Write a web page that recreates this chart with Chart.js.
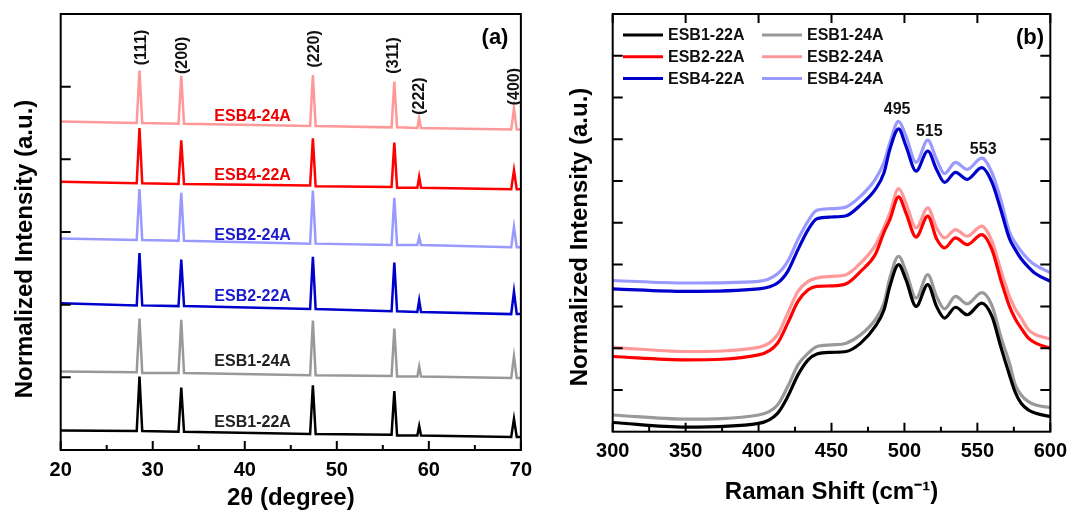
<!DOCTYPE html>
<html>
<head>
<meta charset="utf-8">
<script src="https://cdn.jsdelivr.net/npm/chart.js@4.4.1/dist/chart.umd.min.js"></script>
<style>
  body { margin: 0; background: #fff; }
  .panel { position: absolute; top: 0; height: 513px; }
  #wrapA { left: 0; width: 540px; }
  #wrapB { left: 540px; width: 535px; }
</style>
</head>
<body>
<div class="panel" id="wrapA"><canvas id="xrd"></canvas></div>
<div class="panel" id="wrapB"><canvas id="raman"></canvas></div>
<script>
const FONT = 'Arial, "Liberation Sans", sans-serif';

// (a) XRD, offset patterns
const twoTheta = [20, 28.26, 28.56, 28.86, 32.8, 33.1, 33.4, 47.1, 47.4, 47.7, 55.95, 56.25, 56.55, 58.75, 58.95, 59.15, 68.95, 69.25, 69.55, 70];
const xrdEsb4_24A = [4.52, 4.50, 5.22, 4.50, 4.49, 5.15, 4.49, 4.46, 5.16, 4.46, 4.44, 5.07, 4.44, 4.43, 4.57, 4.43, 4.41, 4.70, 4.41, 4.41];
const xrdEsb4_22A = [3.69, 3.67, 4.43, 3.67, 3.66, 4.26, 3.66, 3.64, 4.29, 3.63, 3.62, 4.23, 3.61, 3.61, 3.76, 3.61, 3.59, 3.85, 3.59, 3.59];
const xrdEsb2_24A = [2.91, 2.89, 3.59, 2.89, 2.88, 3.54, 2.88, 2.84, 3.57, 2.84, 2.82, 3.47, 2.82, 2.82, 2.93, 2.82, 2.79, 3.07, 2.79, 2.79];
const xrdEsb2_22A = [2.02, 1.99, 2.71, 1.99, 1.98, 2.62, 1.98, 1.94, 2.66, 1.94, 1.91, 2.58, 1.91, 1.90, 2.06, 1.90, 1.87, 2.18, 1.87, 1.87];
const xrdEsb1_24A = [1.08, 1.07, 1.81, 1.06, 1.06, 1.79, 1.06, 1.03, 1.78, 1.03, 1.02, 1.67, 1.01, 1.01, 1.15, 1.01, 0.99, 1.29, 0.99, 0.99];
const xrdEsb1_22A = [0.27, 0.26, 1.01, 0.26, 0.25, 0.86, 0.25, 0.22, 0.89, 0.22, 0.21, 0.81, 0.20, 0.20, 0.33, 0.20, 0.18, 0.43, 0.18, 0.18];
const xrdNames = ['ESB4-24A', 'ESB4-22A', 'ESB2-24A', 'ESB2-22A', 'ESB1-24A', 'ESB1-22A'];
const xrdLabelY = [4.59, 3.78, 2.95, 2.11, 1.21, 0.38];
const xrdLabelX = 40.85;
const hklLabels = ['(111)', '(200)', '(220)', '(311)', '(222)', '(400)'];
const hklX = [28.82, 33.22, 47.62, 56.19, 58.98, 69.33];
const hklY = [5.54, 5.43, 5.52, 5.43, 4.87, 5.0];
const xrdTicks = [20, 30, 40, 50, 60, 70];
const xrdMinor = [25, 35, 45, 55, 65];
const xrdYTicks = [1, 2, 3, 4, 5];

// (b) Raman, offset spectra
const ramanShift = [300, 350, 400, 413, 420, 427, 434, 440, 450, 460, 470, 480, 486, 490, 496, 501, 508, 516, 522, 527.5, 535, 543, 553, 560, 566, 572, 576, 580, 585, 590, 600];
const ramEsb1_22A = [0.22, 0.11, 0.20, 0.44, 0.84, 1.36, 1.72, 1.86, 1.90, 1.92, 2.12, 2.52, 2.92, 3.48, 4.00, 3.64, 3.00, 3.52, 3.00, 2.72, 2.98, 2.80, 3.08, 2.76, 2.04, 1.36, 0.94, 0.68, 0.52, 0.44, 0.36];
const ramEsb1_24A = [0.40, 0.30, 0.40, 0.64, 1.08, 1.60, 1.88, 2.04, 2.08, 2.12, 2.32, 2.68, 3.08, 3.68, 4.20, 3.84, 3.20, 3.76, 3.24, 2.94, 3.24, 3.06, 3.33, 3.02, 2.28, 1.64, 1.12, 0.88, 0.72, 0.64, 0.58];
const ramEsb2_22A = [1.80, 1.72, 1.84, 2.12, 2.60, 3.12, 3.40, 3.48, 3.49, 3.54, 3.84, 4.24, 4.78, 5.08, 5.62, 5.24, 4.66, 5.16, 4.62, 4.40, 4.64, 4.48, 4.72, 4.36, 3.64, 3.00, 2.70, 2.48, 2.24, 2.12, 2.00];
const ramEsb2_24A = [2.02, 1.92, 2.02, 2.32, 2.84, 3.36, 3.60, 3.68, 3.72, 3.76, 4.04, 4.46, 4.90, 5.24, 5.82, 5.48, 4.88, 5.36, 4.88, 4.64, 4.84, 4.68, 4.92, 4.56, 3.88, 3.24, 2.94, 2.72, 2.44, 2.32, 2.22];
const ramEsb4_22A = [3.42, 3.36, 3.42, 3.56, 3.84, 4.36, 4.84, 5.10, 5.14, 5.17, 5.43, 5.80, 6.20, 6.76, 7.25, 6.84, 6.24, 6.72, 6.28, 5.97, 6.21, 6.04, 6.32, 5.97, 5.32, 4.62, 4.36, 4.14, 3.94, 3.78, 3.60];
const ramEsb4_24A = [3.62, 3.56, 3.60, 3.78, 4.08, 4.60, 5.05, 5.30, 5.34, 5.38, 5.64, 6.04, 6.45, 6.92, 7.43, 7.08, 6.45, 6.98, 6.52, 6.18, 6.45, 6.28, 6.55, 6.20, 5.56, 4.78, 4.52, 4.32, 4.12, 3.98, 3.81];
const ramanNames = ['ESB1-22A', 'ESB1-24A', 'ESB2-22A', 'ESB2-24A', 'ESB4-22A', 'ESB4-24A'];
const bandLabels = ['495', '515', '553'];
const bandX = [495, 517, 554];
const bandY = [7.71, 7.19, 6.76];
const ramanTicks = [300, 350, 400, 450, 500, 550, 600];
const ramanMinor = [325, 375, 425, 475, 525, 575];
const ramanYTicks = [1, 2, 3, 4, 5, 6, 7, 8, 9];

// colours
const BLACK = '#000000', GREY = '#999999', RED = '#ff0000', PINK = '#ff9999', BLUE = '#0000cc', LBLUE = '#9999ff';
const xrdColors = [PINK, RED, LBLUE, BLUE, GREY, BLACK];
const xrdTextColors = ['#ee0000', '#ee0000', '#1a1acc', '#1a1acc', '#222222', '#222222'];
const ramanColors = [BLACK, GREY, RED, PINK, BLUE, LBLUE];

const pts = (xs, ys) => xs.map((x, i) => ({ x, y: ys[i] }));
const f = (size) => `bold ${size}px ${FONT}`;

// frame, inward ticks, annotations and the inner legend
const decor = {
  id: 'decor',
  afterDatasetsDraw(chart, args, o) {
    const { ctx, chartArea: a, scales: { x, y } } = chart;
    ctx.save();
    ctx.strokeStyle = '#000';
    ctx.lineWidth = 2;
    ctx.strokeRect(a.left, a.top, a.right - a.left, a.bottom - a.top);
    ctx.beginPath();
    o.xMajor.forEach(v => {
      const p = x.getPixelForValue(v);
      ctx.moveTo(p, a.bottom); ctx.lineTo(p, a.bottom - 9);
      if (o.mirror) { ctx.moveTo(p, a.top); ctx.lineTo(p, a.top + 9); }
    });
    o.xMinor.forEach(v => {
      const p = x.getPixelForValue(v);
      ctx.moveTo(p, a.bottom); ctx.lineTo(p, a.bottom - 5);
    });
    o.yTicks.forEach(v => {
      const p = y.getPixelForValue(v);
      ctx.moveTo(a.left, p); ctx.lineTo(a.left + 10, p);
      if (o.mirror) { ctx.moveTo(a.right, p); ctx.lineTo(a.right - 10, p); }
    });
    ctx.stroke();

    ctx.textAlign = 'center';
    ctx.textBaseline = 'middle';
    o.texts.forEach(t => {
      const px = t.px !== undefined ? t.px : x.getPixelForValue(t.x);
      const py = t.py !== undefined ? t.py : y.getPixelForValue(t.y);
      ctx.save();
      ctx.translate(px, py);
      ctx.rotate(t.rot || 0);
      ctx.font = t.font;
      ctx.fillStyle = t.color || '#000';
      ctx.fillText(t.text, 0, 0);
      ctx.restore();
    });

    if (o.legend) {
      const L = o.legend;
      ctx.font = f(16);
      ctx.textAlign = 'left';
      chart.data.datasets.forEach((ds, i) => {
        const col = i % 2, row = Math.floor(i / 2);
        const lx = L.x + col * L.colW, ly = L.y + row * L.rowH;
        ctx.strokeStyle = ds.borderColor;
        ctx.lineWidth = 3;
        ctx.beginPath();
        ctx.moveTo(lx, ly); ctx.lineTo(lx + 40, ly);
        ctx.stroke();
        ctx.fillStyle = '#111';
        ctx.fillText(ds.label, lx + 45, ly + 1);
      });
    }
    ctx.restore();
  }
};

const xAxis = (min, max, step, title, titlePad, height) => ({
  type: 'linear', min, max,
  afterFit: s => { s.height = height; },
  grid: { display: false, drawTicks: false },
  border: { display: false },
  ticks: { stepSize: step, padding: 8, color: '#000', font: { family: FONT, size: 20, weight: 'bold' } },
  title: { display: true, text: title, color: '#000', padding: { top: 0, bottom: titlePad },
           font: { family: FONT, size: 24, weight: 'bold' } }
});

const xrdTexts = [
  { px: 25, py: 249, rot: -Math.PI / 2, text: 'Normalized Intensity (a.u.)', font: f(24) },
  { px: 495, py: 38, text: '(a)', font: f(22) }
];
hklLabels.forEach((t, i) => xrdTexts.push({ x: hklX[i], y: hklY[i], rot: -Math.PI / 2, text: t, font: f(16), color: '#111' }));
xrdNames.forEach((t, i) => xrdTexts.push({ x: xrdLabelX, y: xrdLabelY[i], text: t, font: f(16), color: xrdTextColors[i] }));

new Chart(document.getElementById('xrd'), {
  type: 'line',
  data: {
    datasets: [xrdEsb4_24A, xrdEsb4_22A, xrdEsb2_24A, xrdEsb2_22A, xrdEsb1_24A, xrdEsb1_22A].map((ys, i) => ({
      label: xrdNames[i], data: pts(twoTheta, ys), borderColor: xrdColors[i],
      borderWidth: 2.5, pointRadius: 0, tension: 0
    }))
  },
  options: {
    responsive: true, maintainAspectRatio: false, animation: false,
    layout: { padding: { left: 60.7, right: 17.7, top: 14, bottom: 0 } },
    plugins: {
      legend: { display: false }, tooltip: { enabled: false },
      decor: { xMajor: xrdTicks, xMinor: xrdMinor, yTicks: xrdYTicks, mirror: false, texts: xrdTexts }
    },
    scales: {
      x: xAxis(20, 70, 10, '2θ (degree)', 0, 63),
      y: { display: false, min: 0, max: 6 }
    }
  },
  plugins: [decor]
});

const ramanTexts = [
  { px: 40, py: 237, rot: -Math.PI / 2, text: 'Normalized Intensity (a.u.)', font: f(24) },
  { px: 490, py: 38, text: '(b)', font: f(22) }
];
bandLabels.forEach((t, i) => ramanTexts.push({ x: bandX[i], y: bandY[i], text: t, font: f(16), color: '#111' }));

new Chart(document.getElementById('raman'), {
  type: 'line',
  data: {
    datasets: [ramEsb1_22A, ramEsb1_24A, ramEsb2_22A, ramEsb2_24A, ramEsb4_22A, ramEsb4_24A].map((ys, i) => ({
      label: ramanNames[i], data: pts(ramanShift, ys), borderColor: ramanColors[i],
      borderWidth: 3.2, pointRadius: 0, cubicInterpolationMode: 'monotone'
    }))
  },
  options: {
    responsive: true, maintainAspectRatio: false, animation: false,
    layout: { padding: { left: 72.7, right: 20, top: 14, bottom: 0 } },
    plugins: {
      legend: { display: false }, tooltip: { enabled: false },
      decor: { xMajor: ramanTicks, xMinor: ramanMinor, yTicks: ramanYTicks, mirror: true, texts: ramanTexts,
               legend: { x: 83, y: 35, colW: 139, rowH: 21.7 } }
    },
    scales: {
      x: xAxis(300, 600, 50, 'Raman Shift (cm⁻¹)', 6.6, 81.3),
      y: { display: false, min: 0, max: 10 }
    }
  },
  plugins: [decor]
});
</script>
</body>
</html>
